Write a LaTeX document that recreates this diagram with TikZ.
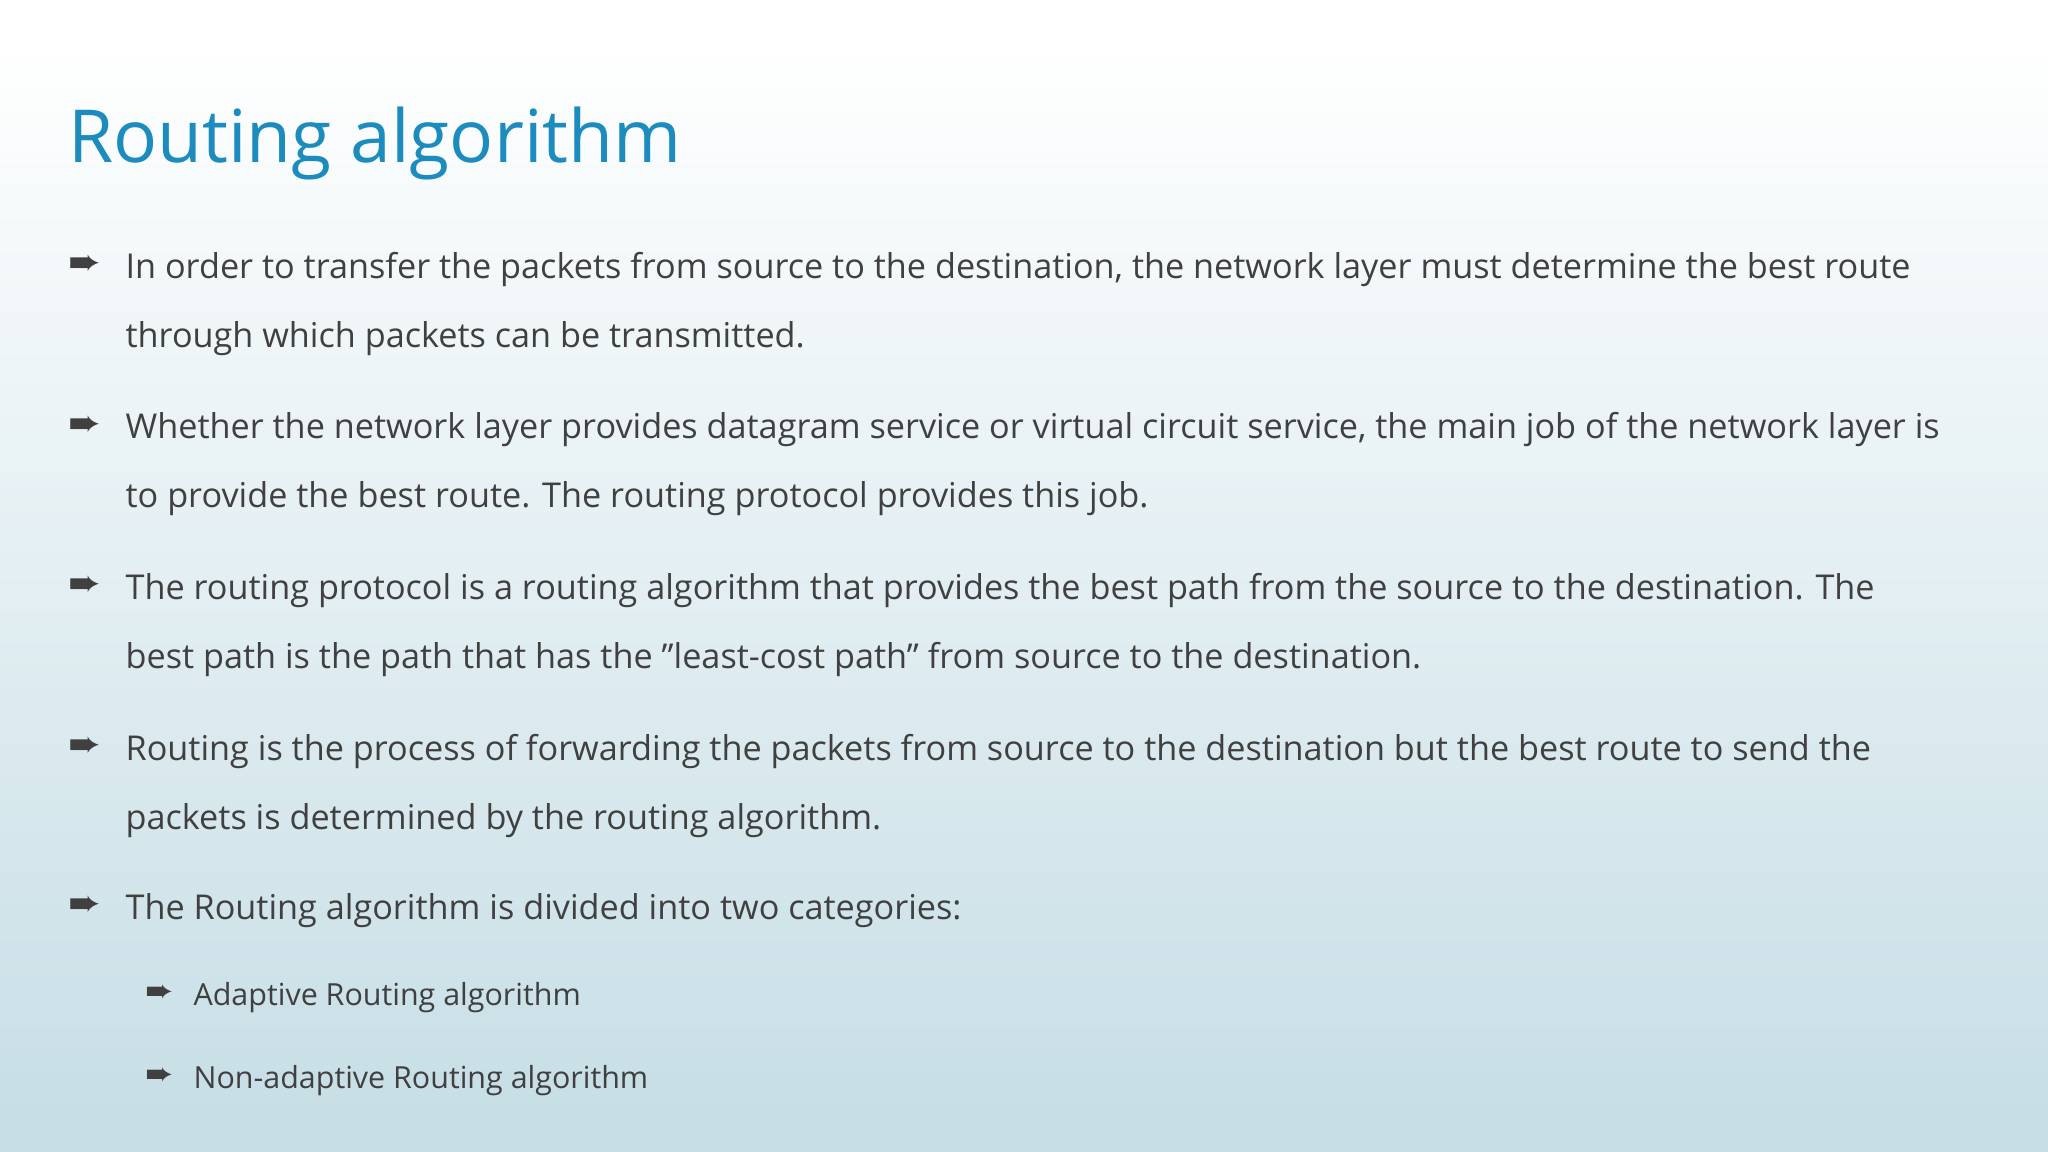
\documentclass[tikz,border=0pt]{standalone}
\usepackage{fontspec}
\setmainfont{Open Sans}
\newfontfamily\symf{DejaVu Sans}
\definecolor{titlec}{RGB}{28,140,190}
\definecolor{textc}{RGB}{64,64,64}
\definecolor{bgbot}{RGB}{197,221,229}
\begin{document}
\begin{tikzpicture}[x=1pt,y=-1pt,
  body/.style={anchor=west,inner sep=0pt,text=textc,font=\fontsize{26.2}{30}\selectfont},
  sub/.style={anchor=west,inner sep=0pt,text=textc,font=\fontsize{23.3}{27}\selectfont},
  bul/.style={anchor=center,inner sep=0pt,text=textc,font=\symf\fontsize{30}{32}\selectfont},
  sbul/.style={anchor=center,inner sep=0pt,text=textc,font=\symf\fontsize{26}{28}\selectfont}]
\useasboundingbox (0,0) rectangle (1568,882);
\fill[white] (0,0) rectangle (1568,31);
\shade[top color=white,bottom color=bgbot] (0,30) rectangle (1568,882);
\node[anchor=west,inner sep=0pt,text=titlec,font=\fontsize{56}{60}\selectfont] (title) at (52,110) {Routing algorithm};
\foreach \y/\n in {203/b1,326/b2,449/b3,572/b4,694/b5}{\node[bul] (\n) at (65,\y) {➨};}
\node[body] (t1a) at (96,206) {In order to transfer the packets from source to the destination, the network layer must determine the best route};
\node[body] (t1b) at (96,259) {through which packets can be transmitted.};
\node[body] (t2a) at (96,329) {Whether the network layer provides datagram service or virtual circuit service, the main job of the network layer is};
\node[body] (t2b) at (96,382) {to provide the best route. The routing protocol provides this job.};
\node[body] (t3a) at (96,452) {The routing protocol is a routing algorithm that provides the best path from the source to the destination. The};
\node[body] (t3b) at (96,505) {best path is the path that has the \symbol{"22}least-cost path\symbol{"22} from source to the destination.};
\node[body] (t4a) at (96,575) {Routing is the process of forwarding the packets from source to the destination but the best route to send the};
\node[body] (t4b) at (96,628) {packets is determined by the routing algorithm.};
\node[body] (t5) at (96,697) {The Routing algorithm is divided into two categories:};
\node[sbul] (s1) at (122,761) {➨};
\node[sbul] (s2) at (122,824) {➨};
\node[sub] (u1) at (148,764) {Adaptive Routing algorithm};
\node[sub] (u2) at (148,827) {Non-adaptive Routing algorithm};
\end{tikzpicture}
\end{document}
